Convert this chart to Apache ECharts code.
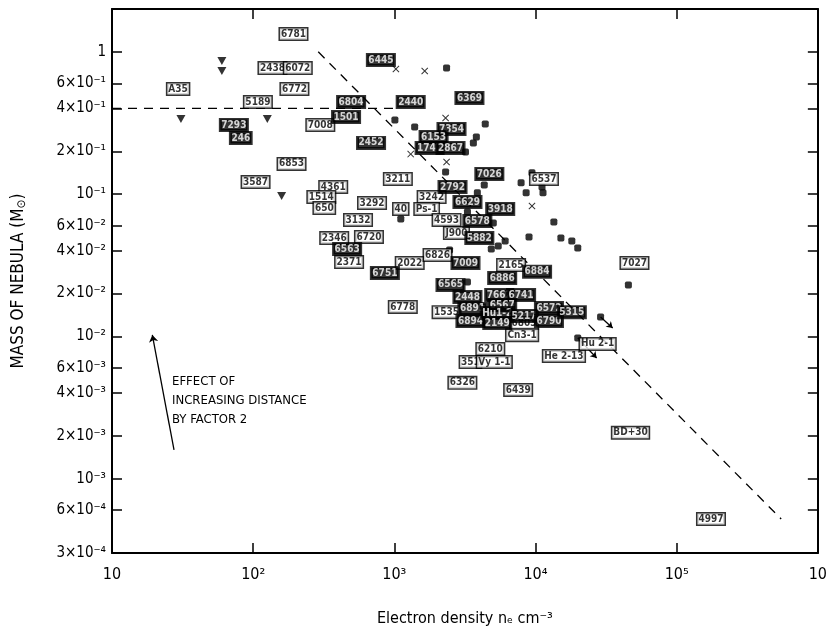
<!DOCTYPE html>
<html><head><meta charset="utf-8">
<script src="https://cdn.jsdelivr.net/npm/echarts@6/dist/echarts.min.js"></script>
<style>html,body{margin:0;padding:0;background:#fff}#c{width:830px;height:635px}</style>
</head><body><div id="c"></div>
<script>
// ---------- axis ticks ----------
const xTickVals = [10, 100, 1000, 1e4, 1e5, 1e6];
const xTickLabels = ['10', '10²', '10³', '10⁴', '10⁵', '10'];
const yTickVals = [3e-4, 6e-4, 1e-3, 2e-3, 4e-3, 6e-3, 1e-2, 2e-2, 4e-2, 6e-2, 0.1, 0.2, 0.4, 0.6, 1];
const yTickLabels = ['3×10⁻⁴', '6×10⁻⁴', '10⁻³', '2×10⁻³', '4×10⁻³', '6×10⁻³', '10⁻²', '2×10⁻²', '4×10⁻²', '6×10⁻²', '10⁻¹', '2×10⁻¹', '4×10⁻¹', '6×10⁻¹', '1'];

// ---------- markers ----------
const triangleN = [60, 60, 30.8, 126, 159];
const triangleM = [0.862, 0.733, 0.337, 0.337, 0.097];

const crossN = [1026, 1641, 2307, 1306, 2344, 9441];
const crossM = [0.757, 0.733, 0.343, 0.191, 0.168, 0.0825];

const squareN = [2344, 1009, 1393, 4406, 3811, 3630, 3192, 2307, 4335, 3873, 9441, 7905, 8583, 11300, 11120,
  13490, 15130, 18080, 19920, 45500, 8995, 5024, 3296, 6095, 5445, 4862, 2461, 1111, 3296, 28900, 19920];
const squareM = [0.769, 0.332, 0.296, 0.311, 0.252, 0.229, 0.198, 0.143, 0.116, 0.102, 0.141, 0.120, 0.102, 0.102, 0.112,
  0.0637, 0.0491, 0.0468, 0.0418, 0.0230, 0.0500, 0.0626, 0.0748, 0.0468, 0.0432, 0.0411, 0.0405, 0.0668, 0.0241, 0.01368, 0.00975];

// ---------- labelled nebulae ----------
const labelNames = ['6781', '2438', '6072', '6772', 'A35', '5189', '7293', '246', '7008', '6853', '3587',
  '6445', '6804', '2440', '6369', '1501', '7354', '6153', '1747', '2867', '2452', '3211', '7026', '6537',
  '2792', '3242', '4361', '1514', '650', '3292', '40', 'Ps-1', '4593', '6629', '3918', '6578', 'J900', '5882',
  '3132', '2346', '6720', '6563', '2371', '6751', '2022', '6826', '7009', '6565', '6884', '2165', '6886', '7027',
  '6778', '1535', '2448', '6891', '6894', '7662', '6741', '6567', 'Hu1-2', '5217', '2149', '6803', 'Cn3-1',
  '6572', '6790', '5315', '6210', '351', 'Vy 1-1', '6326', '6439', 'He 2-13', 'Hu 2-1', 'BD+30', '4997'];
const labelN = [193, 137, 207, 196, 29.4, 108, 73, 81.7, 299, 187, 104,
  803, 494, 1306, 3404, 455, 2541, 1897, 1778, 2500, 684, 1059, 4710, 11480,
  2583, 1837, 369, 304, 319, 695, 1111, 1694, 2344, 3296, 5623, 3873, 2754, 4000,
  553, 375, 661, 463, 478, 857, 1285, 2023, 3192, 2500, 10260, 6714, 5807, 50230,
  1148, 2344, 3296, 3573, 3461, 5533, 7905, 5807, 5360, 8300, 5360, 8300, 8035,
  12450, 12450, 18080, 4786, 3461, 5105, 3034, 7535, 15900, 27540, 47100, 175000];
const labelM = [1.334, 0.769, 0.769, 0.548, 0.548, 0.444, 0.306, 0.248, 0.306, 0.163, 0.1216,
  0.876, 0.444, 0.444, 0.474, 0.348, 0.287, 0.252, 0.211, 0.211, 0.229, 0.1277, 0.1384, 0.1277,
  0.1122, 0.0954, 0.1122, 0.0954, 0.0798, 0.0866, 0.0786, 0.0786, 0.0658, 0.088, 0.0786, 0.0647, 0.0533, 0.0491,
  0.0658, 0.0491, 0.050, 0.0411, 0.0333, 0.0279, 0.0328, 0.0373, 0.0328, 0.023, 0.0284, 0.0317, 0.0257, 0.0328,
  0.0161, 0.0148, 0.0189, 0.0156, 0.0128, 0.0195, 0.0195, 0.0166, 0.0146, 0.0139, 0.0124, 0.0124, 0.0102,
  0.0158, 0.0128, 0.0148, 0.00815, 0.0066, 0.0066, 0.00471, 0.0042, 0.00728, 0.00885, 0.0021, 0.00052];
const labelFilled = [0, 0, 0, 0, 0, 0, 1, 1, 0, 0, 0,
  1, 1, 1, 1, 1, 1, 1, 1, 1, 1, 0, 1, 0,
  1, 0, 0, 0, 0, 0, 0, 0, 0, 1, 1, 1, 0, 1,
  0, 0, 0, 1, 0, 1, 0, 0, 1, 1, 1, 0, 1, 0,
  0, 0, 1, 1, 1, 1, 1, 1, 1, 1, 1, 0, 0,
  1, 1, 1, 0, 0, 0, 0, 0, 0, 0, 0, 0];

// ---------- lines & arrows ----------
const horizLine = [[10, 0.4], [1060, 0.4]];
const diagLine = [[289, 1.0], [5.5e5, 5.2e-4]];
const shiftArrows = [
  [[28900, 0.01368], [35200, 0.01146]],
  [[19920, 0.00975], [27100, 0.00705]]
];
const distanceArrow = [[27.5, 0.00159], [19.3, 0.01023]];

// ---------- build ----------
const FONT = "'DejaVu Sans Condensed', 'DejaVu Sans', sans-serif";
function fmt(vals, labels) {
  return function (v) {
    for (let i = 0; i < vals.length; i++) {
      if (Math.abs(Math.log10(v) - Math.log10(vals[i])) < 1e-4) return labels[i];
    }
    return '';
  };
}
const zip = (a, b) => a.map((v, i) => [v, b[i]]);
const crossPath = 'path://M0,1L1,0L5,4L9,0L10,1L6,5L10,9L9,10L5,6L1,10L0,9L4,5Z';

const labelFilledData = [], labelOpenData = [];
labelNames.forEach((nm, i) => {
  (labelFilled[i] ? labelFilledData : labelOpenData).push([labelN[i], labelM[i], nm]);
});
const boxLabel = (filled) => ({
  show: true, position: 'inside', formatter: p => p.data[2],
  fontFamily: FONT, fontSize: 10, fontWeight: 'bold',
  color: filled ? '#fff' : '#000',
  backgroundColor: filled ? '#000' : '#fff',
  borderColor: '#000', borderWidth: 1.5, padding: [1, 1, 0, 1]
});

const axisCommonX = {
  type: 'log', logBase: 10, min: 10, max: 1e6,
  axisLine: { show: true, onZero: false, lineStyle: { color: '#000', width: 2 } },
  axisTick: { show: true, inside: true, length: 10, customValues: xTickVals, lineStyle: { color: '#000', width: 1.5 } },
  splitLine: { show: false }, minorTick: { show: false }
};
const axisCommonY = {
  type: 'log', logBase: 10, min: 3e-4, max: 2,
  axisLine: { show: true, onZero: false, lineStyle: { color: '#000', width: 2 } },
  axisTick: { show: true, inside: true, length: 10, customValues: yTickVals, lineStyle: { color: '#000', width: 1.5 } },
  splitLine: { show: false }, minorTick: { show: false }
};

const chart = echarts.init(document.getElementById('c'));
chart.setOption({
  backgroundColor: '#fff',
  animation: false,
  grid: { left: 112, right: 8, top: 9, bottom: 82 },
  xAxis: [
    Object.assign({}, axisCommonX, {
      position: 'bottom',
      axisLabel: { customValues: xTickVals, formatter: fmt(xTickVals, xTickLabels), color: '#000', fontSize: 16, margin: 14, fontFamily: FONT },
      name: 'Electron density nₑ cm⁻³', nameLocation: 'middle', nameGap: 58,
      nameTextStyle: { color: '#000', fontSize: 16, fontFamily: FONT }
    }),
    Object.assign({}, axisCommonX, { position: 'top', axisLabel: { show: false } })
  ],
  yAxis: [
    Object.assign({}, axisCommonY, {
      position: 'left',
      axisLabel: { customValues: yTickVals, formatter: fmt(yTickVals, yTickLabels), color: '#000', fontSize: 15, margin: 6, fontFamily: FONT },
      name: '{a|MASS OF NEBULA (M}{s|⊙}{a|)}', nameLocation: 'middle', nameGap: 84,
      nameTextStyle: { color: '#000', fontFamily: FONT, rich: { a: { fontSize: 17, fontFamily: FONT, color: '#000' }, s: { fontSize: 12, fontFamily: FONT, color: '#000', padding: [6, 0, 0, 0] } } }
    }),
    Object.assign({}, axisCommonY, { position: 'right', axisLabel: { show: false } })
  ],
  graphic: [{
    type: 'text', left: 172, top: 372,
    style: { text: 'EFFECT OF\nINCREASING DISTANCE\nBY FACTOR 2', font: '13px ' + FONT, fill: '#000', lineHeight: 19 }
  }],
  series: [
    { type: 'line', data: horizLine, showSymbol: false, symbol: 'none', lineStyle: { color: '#000', width: 1.3, type: [9, 7] }, z: 1 },
    { type: 'line', data: diagLine, showSymbol: false, symbol: 'none', lineStyle: { color: '#000', width: 1.3, type: [9, 7] }, z: 1 },
    { type: 'scatter', data: zip(triangleN, triangleM), symbol: 'triangle', symbolRotate: 180, symbolSize: [9, 8], itemStyle: { color: '#000' }, z: 3 },
    { type: 'scatter', data: zip(crossN, crossM), symbol: crossPath, symbolSize: 7, itemStyle: { color: '#000' }, z: 3 },
    { type: 'scatter', data: zip(squareN, squareM), symbol: 'roundRect', symbolSize: 7, itemStyle: { color: '#000' }, z: 3 },
    { type: 'lines', coordinateSystem: 'cartesian2d', data: shiftArrows.map(c => ({ coords: c })), symbol: ['none', 'arrow'], symbolSize: 6, lineStyle: { color: '#000', width: 1.3, opacity: 1 }, z: 3 },
    { type: 'lines', coordinateSystem: 'cartesian2d', data: [{ coords: distanceArrow }], symbol: ['none', 'arrow'], symbolSize: [0, 7], lineStyle: { color: '#000', width: 1.3, opacity: 1 }, z: 3 },
    { type: 'scatter', data: labelOpenData, symbolSize: 0, label: boxLabel(false), z: 5 },
    { type: 'scatter', data: labelFilledData, symbolSize: 0, label: boxLabel(true), z: 6 }
  ]
});
</script></body></html>
